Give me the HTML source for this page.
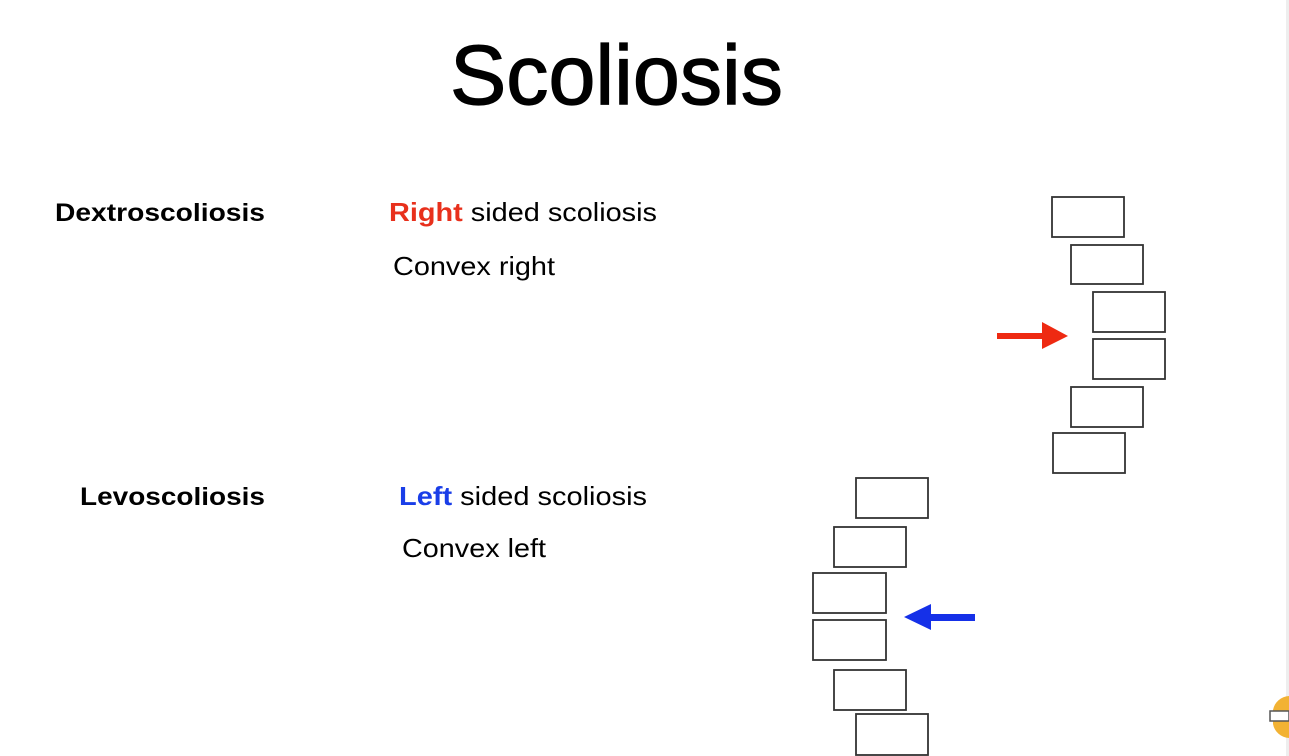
<!DOCTYPE html>
<html><head><meta charset="utf-8"><style>
html,body{margin:0;padding:0;background:#fff;}
svg{display:block}
</style></head><body>
<svg width="1289" height="756" viewBox="0 0 1289 756" xmlns="http://www.w3.org/2000/svg">
<rect x="0" y="0" width="1289" height="756" fill="#fff"/>
<rect x="1286" y="0" width="3" height="756" fill="#eeeeee"/>
<g font-family="Liberation Sans, Arial, sans-serif" fill="#000">
<text x="450" y="104" font-size="84" textLength="333" lengthAdjust="spacingAndGlyphs" stroke="#000" stroke-width="1.2">Scoliosis</text>
<text x="55" y="221" font-size="25" font-weight="bold" textLength="210" lengthAdjust="spacingAndGlyphs">Dextroscoliosis</text>
<text x="80" y="505" font-size="25" font-weight="bold" textLength="185" lengthAdjust="spacingAndGlyphs">Levoscoliosis</text>
<text x="389" y="221" font-size="26" textLength="268" lengthAdjust="spacingAndGlyphs"><tspan font-weight="bold" fill="#e8301c">Right</tspan> sided scoliosis</text>
<text x="393" y="275" font-size="26" textLength="162" lengthAdjust="spacingAndGlyphs">Convex right</text>
<text x="399" y="505" font-size="26" textLength="248" lengthAdjust="spacingAndGlyphs"><tspan font-weight="bold" fill="#1a3ee8">Left</tspan> sided scoliosis</text>
<text x="402" y="557" font-size="26" textLength="144" lengthAdjust="spacingAndGlyphs">Convex left</text>
</g>
<g fill="none" stroke="#333" stroke-width="1.8">
<rect x="1052" y="197" width="72" height="40"/>
<rect x="1071" y="245" width="72" height="39"/>
<rect x="1093" y="292" width="72" height="40"/>
<rect x="1093" y="339" width="72" height="40"/>
<rect x="1071" y="387" width="72" height="40"/>
<rect x="1053" y="433" width="72" height="40"/>
<rect x="856" y="478" width="72" height="40"/>
<rect x="834" y="527" width="72" height="40"/>
<rect x="813" y="573" width="73" height="40"/>
<rect x="813" y="620" width="73" height="40"/>
<rect x="834" y="670" width="72" height="40"/>
<rect x="856" y="714" width="72" height="41"/>
</g>
<polygon points="997,333 1042,333 1042,322 1068,336 1042,349 1042,339 997,339" fill="#ee2a12"/>
<polygon points="975,614 931,614 931,604 904,617 931,630 931,621 975,621" fill="#1530e8"/>
<path d="M1289,696 a17,17 0 0 0 -16,14 l0,14 a17,17 0 0 0 16,14 z" fill="#f2b233"/>
<rect x="1270" y="711" width="19" height="10" fill="#fff" stroke="#555" stroke-width="1.5"/>
</svg>
</body></html>
